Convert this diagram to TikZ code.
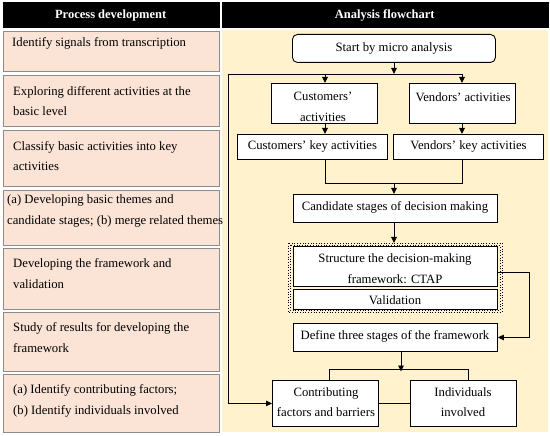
\documentclass[tikz,border=0pt]{standalone}
\usepackage{fontspec}
\setmainfont{Liberation Serif}
\usetikzlibrary{arrows.meta}
\definecolor{pinkfill}{RGB}{251,228,214}
\definecolor{yelfill}{RGB}{255,242,204}
\definecolor{lborder}{RGB}{140,140,140}
\tikzset{
  hdr/.style={fill=black,draw=black,inner sep=0pt},
  hdrtext/.style={text=white,font=\fontsize{12.5}{13}\selectfont\bfseries},
  lbox/.style={fill=pinkfill,draw=lborder,line width=1.2pt,inner sep=0pt},
  ltext/.style={anchor=west,align=left,inner sep=0pt,font=\fontsize{12.7}{20.5}\selectfont},
  fbox/.style={fill=white,draw=black,line width=0.9pt,inner sep=0pt},
  ftext/.style={align=center,inner sep=0pt,font=\fontsize{12.7}{20.5}\selectfont},
  conn/.style={line width=0.9pt},
  arr/.style={line width=0.9pt,-{Triangle[length=6pt,width=5.5pt]}},
}
\begin{document}
\begin{tikzpicture}[x=1pt,y=-1pt]
\useasboundingbox (0,0) rectangle (550,436);
% headers
\node[hdr,minimum width=216,minimum height=25,anchor=north west] (h1) at (2.5,2.5) {};
\node[hdrtext] at (h1.center) {Process development};
\node[hdr,minimum width=326,minimum height=25,anchor=north west] (h2) at (221.5,2.5) {};
\node[hdrtext] at (h2.center) {Analysis flowchart};
% right background
\fill[yelfill] (221.5,30.5) rectangle (548,432);
% left boxes
\node[lbox,minimum width=216,minimum height=40,anchor=north west] (p1) at (3,31) {};
\node[ltext] at (12,43) {Identify signals from transcription};
\node[lbox,minimum width=216,minimum height=51,anchor=north west] (p2) at (3,75) {};
\node[ltext] at (13,101) {Exploring different activities at the\\basic level};
\node[lbox,minimum width=216,minimum height=56,anchor=north west] (p3) at (3,130) {};
\node[ltext] at (13,156) {Classify basic activities into key\\activities};
\node[lbox,minimum width=216,minimum height=55,anchor=north west] (p4) at (3,190) {};
\node[ltext] at (7,211) {(a) Developing basic themes and\\candidate stages; (b) merge related themes};
\node[lbox,minimum width=216,minimum height=61,anchor=north west] (p5) at (3,248) {};
\node[ltext] at (13,273.5) {Developing the framework and\\validation};
\node[lbox,minimum width=216,minimum height=59,anchor=north west] (p6) at (3,312) {};
\node[ltext] at (13,337.5) {Study of results for developing the\\framework};
\node[lbox,minimum width=216,minimum height=58,anchor=north west] (p7) at (3,374) {};
\node[ltext] at (13,401) {(a) Identify contributing factors;\\(b) Identify individuals involved};
% right flowchart boxes
\node[fbox,rounded corners=5pt,minimum width=203,minimum height=28,anchor=north west] (start) at (292,34) {};
\node[ftext] at (394,48) {Start by micro analysis};
\node[fbox,minimum width=106,minimum height=40,anchor=north west] (cust) at (271,83) {};
\node[ftext] at (323,107) {Customers'\\activities};
\node[fbox,minimum width=106,minimum height=40,anchor=north west] (vend) at (409,83) {};
\node[ftext] at (463,97) {Vendors' activities};
\node[fbox,minimum width=150,minimum height=25,anchor=north west] (ckey) at (237,134) {};
\node[ftext] at (ckey.center) {Customers' key activities};
\node[fbox,minimum width=150,minimum height=25,anchor=north west] (vkey) at (393,134) {};
\node[ftext] at (vkey.center) {Vendors' key activities};
\node[fbox,minimum width=204,minimum height=28,anchor=north west] (cand) at (293,194) {};
\node[ftext] at (395,207.5) {Candidate stages of decision making};
% dotted group
\draw[dotted,line width=0.7pt] (288,243) rectangle (502,312);
\draw[dotted,line width=0.7pt] (290,245) rectangle (500,310);
\coordinate (grp) at (395,243);
\node[fbox,minimum width=204,minimum height=40,anchor=north west] (struct) at (293,246) {};
\node[ftext] at (395,268.5) {Structure the decision-making\\framework: CTAP};
\node[fbox,minimum width=204,minimum height=20,anchor=north west] (valid) at (293,289) {};
\node[ftext] at (395,300) {Validation};
\node[fbox,minimum width=204,minimum height=28,anchor=north west] (define) at (293,323) {};
\node[ftext] at (395,336) {Define three stages of the framework};
\node[fbox,minimum width=106,minimum height=46,anchor=north west] (contrib) at (272,380) {};
\node[ftext] at (326,402) {Contributing\\factors and barriers};
\node[fbox,minimum width=106,minimum height=46,anchor=north west] (indiv) at (410,380) {};
\node[ftext] at (463,402) {Individuals\\involved};
% connectors
\coordinate (j1) at (394,74);
\coordinate (jl) at (228,74);
\coordinate (jr) at (462,74);
\coordinate (jc) at (325,74);
\draw[arr] (start.south -| j1) -- (j1);
\draw[conn] (jl) -- (jr);
\draw[arr] (jc) -- (jc |- cust.north);
\draw[arr] (jr) -- (vend.north -| jr);
\draw[arr] (jl) |- (contrib.west);
\draw[arr] (cust.south -| jc) -- (ckey.north -| jc);
\draw[arr] (vend.south -| jr) -- (vkey.north -| jr);
\coordinate (m1) at (325,183);
\coordinate (m2) at (462,183);
\coordinate (mc) at (394,183);
\draw[conn] (ckey.south -| m1) -- (m1) -- (m2) -- (vkey.south -| m2);
\draw[arr] (mc) -- (cand.north -| mc);
\draw[arr] (cand.south -| mc) -- (grp -| mc);
\coordinate (rb) at (529,272);
\draw[arr] (struct.east |- rb) -- (rb) |- (define.east);
\coordinate (d1) at (401,369);
\draw[arr] (define.south -| d1) -- ([yshift=-2.5pt]d1);
\coordinate (d2) at (329,369);
\coordinate (d3) at (468,369);
\draw[conn] (contrib.north -| d2) -- (d2) -- (d3) -- (indiv.north -| d3);
\draw[conn] (contrib.east) -- (indiv.west);
\end{tikzpicture}
\end{document}
